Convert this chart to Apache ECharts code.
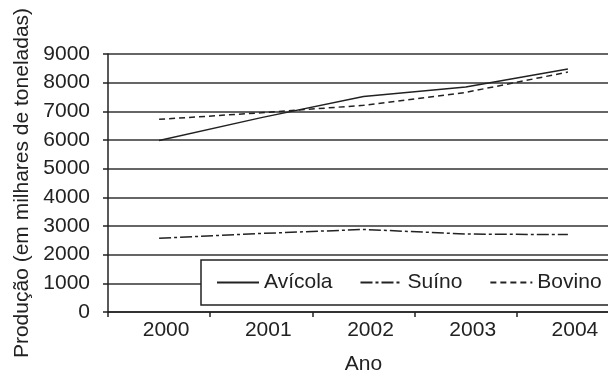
<!DOCTYPE html>
<html>
<head>
<meta charset="utf-8">
<script src="https://cdn.jsdelivr.net/npm/echarts@6/dist/echarts.min.js"></script>
<style>html,body{margin:0;padding:0;background:#fff}#c{width:608px;height:372px}</style>
</head>
<body>
<div id="c"></div>
<script>
var years = ['2000', '2001', '2002', '2003', '2004'];
var avicola = [5980, 6780, 7520, 7850, 8480];
var suino = [2570, 2740, 2880, 2720, 2700];
var bovino = [6720, 6950, 7210, 7660, 8370];
var seriesNames = ['Avícola', 'Suíno', 'Bovino'];
var yTicks = { min: 0, max: 9000, interval: 1000 };

var ink = '#222';
var font = 'Liberation Sans, Arial, sans-serif';
var fs = 21;
var chart = echarts.init(document.getElementById('c'), null, { renderer: 'canvas' });
chart.setOption({
  animation: false,
  backgroundColor: '#fff',
  textStyle: { fontFamily: font, color: ink },
  grid: { left: 108, top: 54, right: -11, bottom: 60, containLabel: false, outerBoundsMode: 'none' },
  xAxis: {
    type: 'category',
    data: years,
    boundaryGap: true,
    name: 'Ano',
    nameLocation: 'middle',
    nameGap: 42,
    nameTextStyle: { fontSize: fs, color: ink, fontFamily: font },
    axisLine: { lineStyle: { color: ink, width: 1.5 } },
    axisTick: { show: true, length: 5, lineStyle: { color: ink, width: 1.5 } },
    axisLabel: { interval: 0, fontSize: fs, color: ink, margin: 8, padding: [0, 0, 0, 14], fontFamily: font },
    splitLine: { show: false }
  },
  yAxis: {
    type: 'value',
    min: yTicks.min,
    max: yTicks.max,
    interval: yTicks.interval,
    name: 'Produção (em milhares de toneladas)',
    nameLocation: 'middle',
    nameGap: 64,
    nameTextStyle: { fontSize: fs, color: ink, fontFamily: font },
    axisLine: { show: true, lineStyle: { color: ink, width: 1.5 } },
    axisTick: { show: true, length: 5, lineStyle: { color: ink, width: 1.5 } },
    axisLabel: { fontSize: fs, color: ink, margin: 18, fontFamily: font,
      formatter: function (v) { return String(v); } },
    splitLine: { show: true, lineStyle: { color: '#333', width: 1.5 } }
  },
  legend: {
    left: 201,
    top: 260,
    width: 460,
    orient: 'horizontal',
    padding: [12, 30, 12, 15],
    itemWidth: 42,
    itemHeight: 14,
    itemGap: 27,
    backgroundColor: '#fff',
    borderColor: ink,
    borderWidth: 1.5,
    borderRadius: 0,
    itemStyle: { color: 'rgba(0,0,0,0)', borderWidth: 0, opacity: 0 },
    textStyle: { fontSize: fs, color: ink, fontFamily: font },
    data: seriesNames
  },
  series: [
    { name: seriesNames[0], type: 'line', data: avicola, symbol: 'none', color: ink,
      lineStyle: { color: ink, width: 1.5, type: 'solid' } },
    { name: seriesNames[1], type: 'line', data: suino, symbol: 'none', color: ink,
      lineStyle: { color: ink, width: 1.5, type: [12, 3, 3, 3] } },
    { name: seriesNames[2], type: 'line', data: bovino, symbol: 'none', color: ink,
      lineStyle: { color: ink, width: 1.5, type: [6, 4] } }
  ]
});
</script>
</body>
</html>
